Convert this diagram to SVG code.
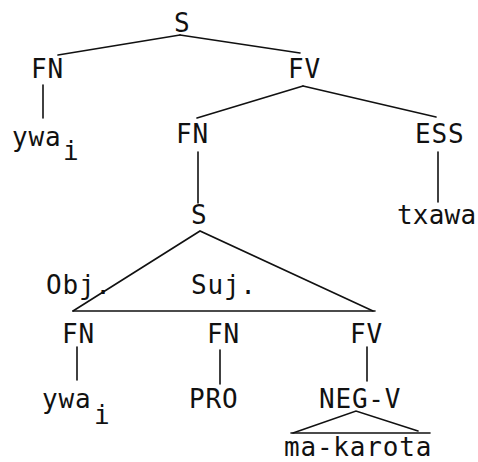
<svg xmlns="http://www.w3.org/2000/svg" width="478" height="462" viewBox="0 0 478 462">
  <style>
    text { font-family: "DejaVu Sans Mono", "Liberation Mono", monospace; font-size: 26px; letter-spacing: 0.8px; fill: #111; }
    .edge { stroke: #111; stroke-width: 1.6; fill: none; stroke-linecap: round; }
  </style>
  <rect width="478" height="462" fill="#fff"/>

  <!-- tree branches -->
  <g id="connectors">
    <line class="edge" x1="180" y1="35" x2="58" y2="55"/>
    <line class="edge" x1="180" y1="35" x2="300" y2="53"/>
    <line class="edge" x1="43" y1="85" x2="43" y2="118"/>
    <line class="edge" x1="303" y1="86" x2="197" y2="118"/>
    <line class="edge" x1="303" y1="86" x2="436" y2="117"/>
    <line class="edge" x1="198" y1="152" x2="198" y2="203"/>
    <line class="edge" x1="438" y1="152" x2="438" y2="202"/>
    <!-- embedded clause triangle -->
    <polyline class="edge" points="73,311 200,231 373,311"/>
    <line class="edge" x1="73" y1="311" x2="375" y2="311"/>
    <line class="edge" x1="77" y1="347" x2="77" y2="380"/>
    <line class="edge" x1="220" y1="350" x2="220" y2="384"/>
    <line class="edge" x1="367" y1="347" x2="367" y2="381"/>
    <!-- NEG-V triangle -->
    <polyline class="edge" points="293,433 356,411 418,431"/>
    <line class="edge" x1="291" y1="433" x2="430" y2="433"/>
  </g>

  <g id="n-S"><text x="174" y="32">S</text></g>
  <g id="n-FN1"><text x="31" y="78">FN</text></g>
  <g id="n-FV1"><text x="288" y="78">FV</text></g>
  <g id="n-ywa1"><text x="12" y="146">ywa</text><text x="63" y="160">i</text></g>
  <g id="n-FN2"><text x="176" y="143">FN</text></g>
  <g id="n-ESS"><text x="415" y="143">ESS</text></g>
  <g id="n-S2"><text x="191" y="224">S</text></g>
  <g id="n-txawa"><text x="397" y="224" style="letter-spacing:0.2px">txawa</text></g>
  <g id="lbl-obj"><text x="46" y="294">Obj.</text></g>
  <g id="lbl-suj"><text x="191" y="294">Suj.</text></g>
  <g id="n-FN3"><text x="62" y="343">FN</text></g>
  <g id="n-FN4"><text x="207" y="343">FN</text></g>
  <g id="n-FV2"><text x="350" y="343">FV</text></g>
  <g id="n-ywa2"><text x="42" y="408">ywa</text><text x="94" y="424">i</text></g>
  <g id="n-PRO"><text x="189" y="408">PRO</text></g>
  <g id="n-NEGV"><text x="319" y="408">NEG-V</text></g>
  <g id="n-makarota"><text x="284" y="456">ma-karota</text></g>
</svg>
